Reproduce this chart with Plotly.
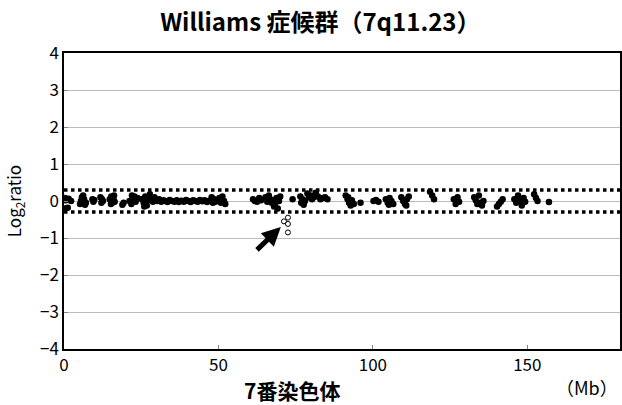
import plotly.graph_objects as go

# Position on chromosome 7 (Mb) and log2 ratio of each probe
pos_mb = [0.3, 0.6, 0.4, 1.2, 1.5, 2.3,
          5.5, 5.8, 6.2, 6.5, 6.8, 7.1, 5.2,
          9.2, 9.8, 9.5,
          11.8, 12.3, 12.1, 12.6,
          14.8, 15.3, 15.6, 16.0, 16.4, 15.2, 16.2,
          18.9, 19.3,
          21.2, 21.8, 22.4, 22.8, 23.2, 23.8, 22.0,
          25.2, 25.8, 26.3, 26.8, 27.2, 27.8, 28.3, 28.8, 26.0, 29.3,
          30.2, 30.8, 31.5, 32.2, 32.8, 33.5, 34.2, 35.0, 35.8,
          36.5, 37.2, 38.0, 38.8, 39.5, 40.3, 41.0, 41.8, 42.5, 43.3, 44.0, 44.8, 45.5, 46.3, 47.0,
          47.8, 48.2, 48.6, 49.0,
          50.3, 50.8, 51.3, 51.8, 52.2,
          61.2, 61.8, 62.5, 63.2, 63.8,
          65.2, 65.8, 66.3, 66.8, 67.2, 67.6, 68.0, 68.3, 68.8, 69.2, 69.6, 70.0,
          74.0,
          76.5, 76.8, 77.2, 77.6, 78.0,
          78.8, 79.3, 79.8, 80.3, 80.8,
          81.5, 82.2, 83.0, 83.8, 84.5, 85.3,
          91.2, 91.8, 92.3, 92.8, 93.2, 93.8, 92.0,
          96.0,
          100.2, 101.0, 101.8,
          104.2, 104.8, 105.4, 106.0, 106.6, 105.2,
          109.2, 109.8, 110.4, 111.0, 111.6, 110.8,
          118.5, 119.2, 119.8,
          126.2, 126.8, 127.4, 127.9,
          132.8, 133.3, 133.8, 134.3, 134.8, 135.3, 135.8,
          140.2, 140.8, 141.4, 142.0,
          145.8, 146.4, 147.0, 147.6, 148.2, 148.8, 149.3,
          152.2, 152.8, 153.3,
          157.0]
log2_ratio = [0.08, 0.02, -0.2, -0.18, 0.06, 0.0,
              0.0, 0.1, 0.15, 0.05, -0.1, -0.05, -0.08,
              0.05, 0.03, -0.02,
              0.1, 0.05, -0.05, 0.0,
              0.05, 0.12, -0.05, 0.08, -0.02, -0.08, 0.15,
              -0.1, -0.05,
              0.0, -0.08, 0.05, 0.12, -0.02, 0.08, 0.15,
              0.05, -0.05, 0.12, -0.12, 0.02, 0.18, 0.05, -0.02, -0.15, 0.1,
              0.0, 0.05, -0.02, 0.02, 0.0, -0.03, 0.03, 0.0, -0.02,
              0.02, -0.03, 0.01, -0.02, 0.03, 0.0, -0.03, 0.02, 0.0, -0.02, 0.03, -0.01, 0.02, -0.03, 0.01,
              0.1, -0.05, 0.05, -0.02,
              0.08, -0.05, 0.12, 0.0, -0.08,
              0.05, 0.0, -0.02, 0.08, 0.02,
              0.1, -0.02, 0.15, 0.05, -0.05, 0.02, -0.15, -0.08, 0.08, -0.2, 0.0, 0.12,
              0.05,
              0.12, -0.05, 0.05, -0.1, 0.0,
              0.2, 0.1, 0.15, 0.05, 0.1,
              0.22, 0.12, 0.05, 0.08, 0.1, 0.05,
              0.15, 0.05, -0.05, -0.12, 0.02, -0.08, 0.1,
              -0.05,
              0.0, 0.03, -0.02,
              0.05, -0.05, 0.08, 0.0, -0.08, -0.1,
              0.1, 0.0, -0.08, 0.05, 0.12, -0.12,
              0.25, 0.15, 0.05,
              0.05, -0.08, 0.1, -0.02,
              0.1, 0.02, -0.08, 0.15, -0.05, -0.12, 0.0,
              -0.15, -0.08, -0.02, 0.05,
              0.05, -0.05, 0.15, 0.02, -0.12, 0.08, -0.02,
              0.18, 0.08, 0.0,
              -0.03]

# Deleted probes (Williams region, open circles)
del_pos_mb = [71.2, 72.5, 72.5, 72.5]
del_log2_ratio = [-0.55, -0.45, -0.62, -0.85]

threshold = 0.3
x_ticks = [0, 50, 100, 150]
y_ticks = [-4, -3, -2, -1, 0, 1, 2, 3, 4]
y_tick_text = ["\u22124", "\u22123", "\u22122", "\u22121", "0", "1", "2", "3", "4"]

FONT = "Liberation Sans Narrow, Noto Sans CJK JP"

fig = go.Figure()

for t in (threshold, -threshold):
    fig.add_trace(go.Scatter(x=[0, 180], y=[t, t], mode="lines",
                             line=dict(color="black", width=3.5, dash="dot"),
                             hoverinfo="skip", showlegend=False))

fig.add_trace(go.Scatter(x=pos_mb, y=log2_ratio, mode="markers",
                         marker=dict(color="black", size=6.5, line=dict(width=0)),
                         showlegend=False))
fig.add_trace(go.Scatter(x=del_pos_mb, y=del_log2_ratio, mode="markers",
                         marker=dict(color="white", size=5, symbol="circle",
                                     line=dict(color="black", width=1)),
                         showlegend=False))

fig.add_annotation(x=70.2, y=-0.70, ax=62.0, ay=-1.36, xref="x", yref="y",
                   axref="x", ayref="y", text="", showarrow=True,
                   arrowhead=2, arrowsize=0.75, arrowwidth=5, arrowcolor="black")

fig.add_annotation(text="<b>7番染色体</b>", x=0.41, y=-0.14, xref="paper", yref="paper",
                   showarrow=False, font=dict(family=FONT, size=21, color="black"),
                   xanchor="center", yanchor="middle")
fig.add_annotation(text="（Mb）", x=1.0, y=-0.13, xref="paper", yref="paper",
                   showarrow=False, font=dict(family=FONT, size=18, color="black"),
                   xanchor="right", yanchor="middle")

fig.update_layout(
    width=622, height=405,
    margin=dict(l=64, r=2, t=53, b=56, autoexpand=False),
    paper_bgcolor="white", plot_bgcolor="white",
    title=dict(text="<b>Williams 症候群（7q11.23）</b>", x=0.515, xanchor="center",
               y=0.945, yanchor="middle",
               font=dict(family=FONT, size=24, color="black")),
    font=dict(family=FONT, size=17, color="black"),
    xaxis=dict(range=[0, 180], tickvals=x_ticks, showgrid=False, zeroline=False,
               showline=True, linecolor="black", linewidth=1.5, mirror=True,
               ticks="inside", ticklen=4, tickcolor="#888", automargin=False,
               tickfont=dict(family=FONT, size=17)),
    yaxis=dict(range=[-4, 4], tickvals=y_ticks, ticktext=y_tick_text,
               showgrid=True, gridcolor="#bbbbbb", gridwidth=1, zeroline=False,
               showline=True, linecolor="black", linewidth=1.5, mirror=True,
               ticks="inside", ticklen=4, tickcolor="#888", automargin=False,
               tickfont=dict(family=FONT, size=17),
               title=dict(text="Log<sub>2</sub>ratio", standoff=14,
                          font=dict(family=FONT, size=17))),
)

fig.write_html("out.html", config={"displayModeBar": False},
               post_script="document.body.style.margin='0';document.body.style.padding='0';")
